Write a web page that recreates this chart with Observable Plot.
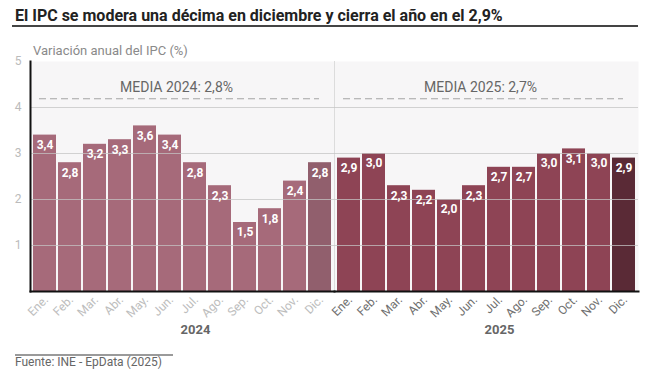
<!DOCTYPE html>
<html>
<head>
<meta charset="utf-8">
<script src="https://cdn.jsdelivr.net/npm/d3@7"></script>
<script src="https://cdn.jsdelivr.net/npm/@observablehq/plot@0.6"></script>
<style>
  html, body { margin: 0; padding: 0; background: #fff; }
  body { width: 655px; height: 371px; position: relative; overflow: hidden; font-family: Roboto, sans-serif; }
  #title { position: absolute; left: 15px; top: 6px; font-weight: bold; font-size: 16px; color: #222; white-space: nowrap; }
  #rule { position: absolute; left: 12px; top: 25px; width: 626px; height: 2px; background: #444; }
  #subtitle { position: absolute; left: 33px; top: 43px; font-size: 13px; color: #8a8a8a; }
  #chart { position: absolute; left: 0; top: 56px; }
  #footrule { position: absolute; left: 15px; top: 354px; width: 158px; height: 2px; background: #9a9a9a; }
  #source { position: absolute; left: 15px; top: 356px; font-size: 12px; line-height: 13px; color: #666; }
</style>
</head>
<body>
<div id="title">El IPC se modera una décima en diciembre y cierra el año en el 2,9%</div>
<div id="rule"></div>
<div id="subtitle">Variación anual del IPC (%)</div>
<div id="chart"></div>
<div id="footrule"></div>
<div id="source">Fuente: INE - EpData (2025)</div>
<script>
const months = ["Ene.","Feb.","Mar.","Abr.","May.","Jun.","Jul.","Ago.","Sep.","Oct.","Nov.","Dic."];
const years = ["2024","2025"];
const ipc2024 = [3.4, 2.8, 3.2, 3.3, 3.6, 3.4, 2.8, 2.3, 1.5, 1.8, 2.4, 2.8];
const ipc2025 = [2.9, 3.0, 2.3, 2.2, 2.0, 2.3, 2.7, 2.7, 3.0, 3.1, 3.0, 2.9];
const yearMeans = [2.8, 2.7];
const yTicks = [1, 2, 3, 4, 5];
const gridTicks = [1, 2, 3, 4];

const series = [ipc2024, ipc2025];
const data = years.flatMap((yr, j) => months.map((m, i) => ({year: yr, month: m, value: series[j][i]})));
const meansData = years.map((yr, j) => ({year: yr, mean: yearMeans[j]}));
const fmt = v => v.toFixed(1).replace(".", ",");

const barColor = d => d.year === "2024"
  ? (d.month === "Dic." ? "#915f6d" : "#a66a7a")
  : (d.month === "Dic." ? "#5a2a36" : "#8e4455");

const chart = Plot.plot({
  width: 655,
  height: 290,
  marginLeft: 30,
  marginRight: 17,
  marginTop: 5,
  marginBottom: 55,
  style: {fontFamily: "Roboto, sans-serif", background: "transparent", overflow: "visible"},
  fx: {domain: years, padding: 0, label: null},
  x: {domain: months, padding: 0.1, axis: null},
  y: {domain: [0, 5], axis: null},
  marks: [
    Plot.frame({fill: "#f7f6f7", stroke: "none"}),
    Plot.frame({anchor: "left", stroke: "#dcdcdc", strokeWidth: 1}),
    Plot.barY(data, {fx: "year", x: "month", y: "value", fill: barColor}),
    Plot.gridY(gridTicks, {stroke: "#c4c4c4", strokeOpacity: 0.75, strokeWidth: 1}),
    Plot.ruleY(meansData, {fx: "year", y: () => 4.19, stroke: "#a5a5a5", strokeDasharray: "7,4", strokeWidth: 1, insetLeft: 9, insetRight: 15}),
    Plot.text(meansData, {fx: "year", y: () => 4.43, frameAnchor: "middle", dx: -6, text: d => `MEDIA ${d.year}: ${fmt(d.mean)}%`, fill: "#666", fontSize: 14}),
    Plot.text(data, {fx: "year", x: "month", y: "value", text: d => fmt(d.value), dy: 10, fill: "white", fontWeight: "bold", fontSize: 12}),
    Plot.frame({anchor: "left", stroke: "#111", strokeWidth: 2, facetAnchor: "left"}),
    Plot.frame({anchor: "bottom", stroke: "#111", strokeWidth: 2}),
    Plot.text(data, {fx: "year", x: "month", frameAnchor: "bottom", text: "month", rotate: -45, textAnchor: "end", dx: 4, dy: 9, fontSize: 12, fill: d => d.year === "2024" ? "#bdbdbd" : "#707070"}),
    Plot.axisY(yTicks, {tickSize: 0, tickPadding: 9, color: "#bbb", fontSize: 12, label: null}),
    Plot.axisFx({anchor: "bottom", tickSize: 0, tickPadding: 33, fontSize: 13, fontWeight: "bold", color: "#666", dx: 13, label: null})
  ]
});
document.getElementById("chart").appendChild(chart);
</script>
</body>
</html>
